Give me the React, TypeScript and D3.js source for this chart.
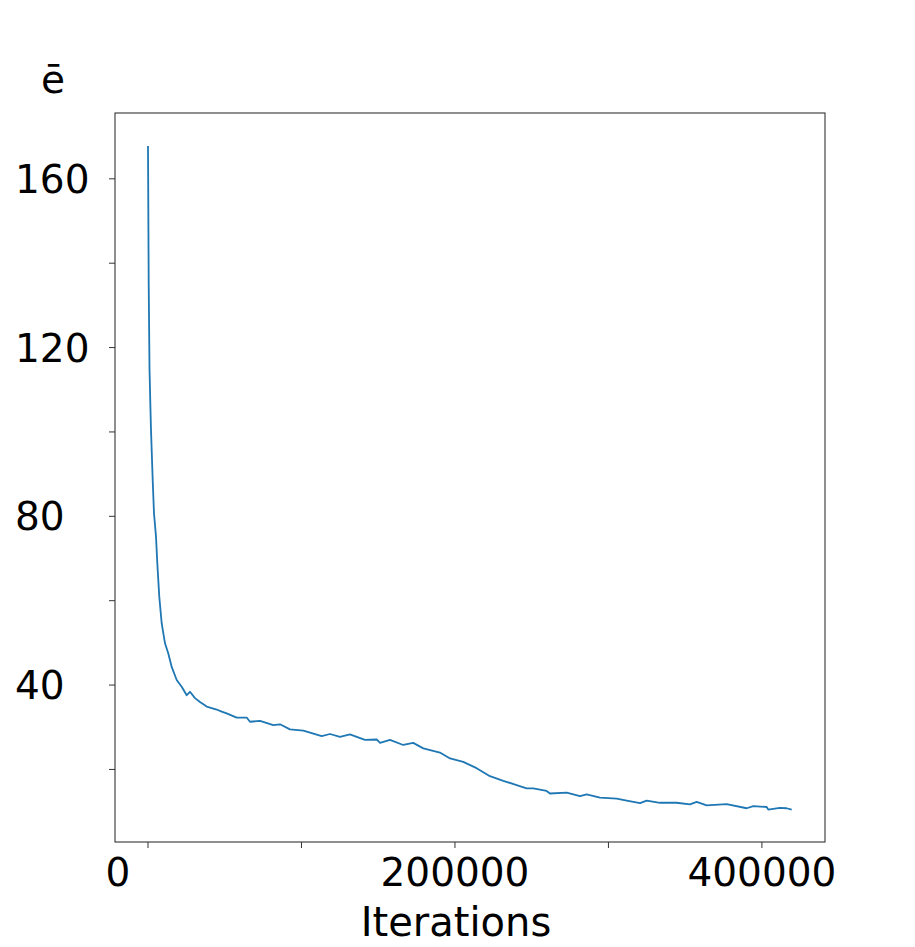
import * as d3 from "d3";

// iterations (thousands) and mean error
const iterK = [
  0, 0.46, 0.98, 1.63, 1.95, 3.06, 3.91, 5.21, 6.06, 7.36, 8.93, 11.08, 13.23, 15.44, 18.7, 21.96, 25.21,
  27.36, 30.62, 33.88, 38.24, 44.76, 48.01, 51.27, 57.79, 64.3, 66.45, 72.97, 81.63, 86.0, 92.5, 101.2,
  105.6, 113.2, 118.6, 125.1, 131.6, 136.0, 141.4, 149.0, 151.2, 157.7, 166.3, 172.8, 179.4, 190.2, 196.8,
  205.4, 214.1, 222.8, 231.5, 240.2, 246.7, 251.0, 259.7, 261.9, 272.8, 281.5, 285.8, 294.5, 305.4, 311.9,
  320.6, 324.9, 333.6, 344.4, 353.1, 357.5, 364.0, 377.0, 390.1, 394.4, 403.1, 404.1, 411.7, 416.1, 419.4,
];
const errMean = [
  167.8, 135, 115, 105, 100.5, 88.6, 80.7, 75.2, 68.9, 60.9, 54.6, 49.9, 47.5, 44.3, 41.2, 39.6, 37.6,
  38.4, 36.9, 36.0, 34.9, 34.2, 33.7, 33.3, 32.3, 32.3, 31.3, 31.5, 30.5, 30.7, 29.5, 29.2,
  28.7, 27.9, 28.4, 27.7, 28.3, 27.7, 27.0, 27.1, 26.3, 27.0, 25.8, 26.3, 25.0, 24.0, 22.6,
  21.8, 20.3, 18.4, 17.3, 16.3, 15.5, 15.5, 14.9, 14.3, 14.5, 13.7, 14.1, 13.3, 13.1, 12.6,
  12.0, 12.6, 12.1, 12.1, 11.7, 12.3, 11.5, 11.8, 10.8, 11.3, 11.1, 10.5, 10.9, 10.8, 10.5,
];

const xTicks = [0, 200000, 400000];
const xMinorTicks = [100000, 300000];
const yTicks = [40, 80, 120, 160];
const yMinorTicks = [20, 60, 100, 140];

const FONT = "DejaVu Sans";

export default function App() {
  const width = 915;
  const height = 947;
  const left = 115, right = 825, top = 113, bottom = 842;

  const x = d3.scaleLinear([-21500, 441100], [left, right]);
  const y = d3.scaleLinear([2.8, 175.6], [bottom, top]);

  const pts = iterK.map((k, i) => [k * 1000, errMean[i]] as [number, number]);
  const line = d3.line<[number, number]>().x((d) => x(d[0])).y((d) => y(d[1]));

  return (
    <svg width={width} height={height} style={{ position: "absolute", left: 0, top: 0 }}>
      <rect width={width} height={height} fill="white" />
      <path d={line(pts) || ""} fill="none" stroke="#1f77b4" strokeWidth={1.8} strokeLinejoin="round" />
      <rect x={left} y={top} width={right - left} height={bottom - top} fill="none" stroke="#333" strokeWidth={1.1} />
      <g stroke="#333" strokeWidth={1}>
        {yTicks.concat(yMinorTicks).map((t) => (
          <line key={"y" + t} x1={left - 6} x2={left} y1={y(t)} y2={y(t)} />
        ))}
        {xTicks.concat(xMinorTicks).map((t) => (
          <line key={"x" + t} x1={x(t)} x2={x(t)} y1={bottom} y2={bottom + 6} />
        ))}
      </g>
      <g fontFamily={FONT} fontSize={39} fill="#000">
        {yTicks.map((t) => (
          <text key={t} x={15} y={y(t)} dy="0.36em" textAnchor="start">
            {t}
          </text>
        ))}
        {xTicks.map((t) => (
          <text key={t} x={x(t) + (t === 0 ? -30 : 0)} y={886} textAnchor="middle">
            {t}
          </text>
        ))}
        <text x={456} y={936} fontSize={40} textAnchor="middle">Iterations</text>
        <text x={41} y={93} textAnchor="start">ē</text>
      </g>
    </svg>
  );
}
